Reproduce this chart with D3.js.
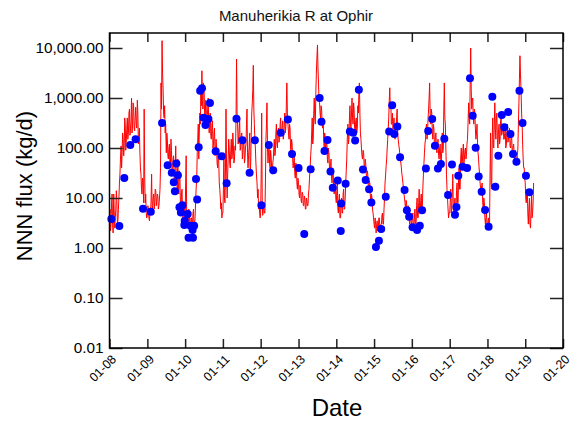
<!DOCTYPE html>
<html>
<head>
<meta charset="utf-8">
<script src="https://cdn.jsdelivr.net/npm/d3@7"></script>
<style>
  html, body { margin: 0; padding: 0; background: #fff; }
  svg { display: block; font-family: "Liberation Sans", Arial, sans-serif; }
</style>
</head>
<body>
<svg id="chart" width="580" height="427"></svg>
<script>
// ---- Data ----
const titleText = "Manuherikia R at Ophir";
const yTickValues = [0.01, 0.1, 1, 10, 100, 1000, 10000];
const xTickYears = [2008, 2009, 2010, 2011, 2012, 2013, 2014, 2015, 2016, 2017, 2018, 2019, 2020];

// continuous flux (red line), ~5-day steps within each year
const flux2008 = [4,6,2.2,3,8,12,3,2,12,5,2.5,4,6,14,9,3,3.5,6,10,20,30,60,110,40,80,200,150,70,100,400,300,90,130,250,400,150,200,500,600,180,250,350,1000,200,300,800,700,250,220,400,650,300,250,900,500,120,150,250,80,40,30,15,12,25,20,8,600,30,8,12,5,4];
const flux2009 = [4.5,7,6,4,3.5,5,5,8,30,6,7,10,12,6,8,15,14,7,9,12,11,6,7,10,15,40,2000,600,14000,3000,1500,500,400,700,200,300,80,200,150,70,60,100,120,40,50,150,90,35,30,60,70,25,20,40,110,30,25,15,60,20,12,35,30,8,6,12,15,5,4,6,8,4.5];
const flux2010 = [3.5,20,70,5,4,3,3,6,5,2.5,2.5,4,4,3,3,5,6,2.5,3,4,8,15,25,80,150,300,60,200,500,300,1200,700,3500,900,600,2000,1500,500,300,900,800,250,400,600,1000,300,200,400,500,180,150,300,350,100,120,200,250,70,80,150,100,50,40,80,60,20,15,10,6,8,4,5];
const flux2011 = [5,15,80,10,8,40,600,50,10,30,60,150,100,50,40,90,150,60,70,200,120,50,60,110,90,400,6000,500,300,120,150,250,400,90,100,180,200,60,80,130,150,50,60,100,120,300,600,80,40,70,100,200,30,50,200,500,800,1500,4500,600,300,150,100,50,30,20,10,15,6,8,5,4];
const flux2012 = [5,30,500,8,4.5,6,8,5,5,20,150,300,800,100,50,80,120,50,40,90,70,40,30,50,60,100,150,70,80,200,300,120,100,200,250,130,150,300,400,180,200,280,350,150,180,300,500,200,250,700,2000,400,300,200,150,300,250,100,80,150,120,60,40,50,70,30,25,50,40,20,15,25];
const flux2013 = [20,12,10,18,15,9,8,13,12,7,7,11,10,6,6,10,9,7,7,12,15,25,40,70,100,200,400,120,150,500,1000,400,300,1200,3000,6000,11500,4000,2000,900,800,500,400,700,600,300,250,400,150,100,200,120,80,150,120,60,50,100,80,40,30,45,60,25,20,40,35,15,12,20,25,10];
const flux2014 = [8,14,20,6,5,9,12,4,4,8,10,5,5,12,15,6,6,10,20,35,60,150,300,120,150,400,700,300,250,500,1000,400,300,800,600,250,200,350,400,200,250,700,500,1200,2000,500,200,150,100,70,60,90,80,45,40,60,50,30,25,35,30,18,15,22,20,10,8,12,10,6,5,4];
const flux2015 = [3,2.5,4,3,2,3,3.5,2.2,2.5,4,4,2.5,2,3,3,4.5,5,3,3,6,10,20,30,45,60,100,150,250,400,900,1600,600,800,300,300,500,200,300,400,180,150,300,250,400,600,200,150,120,100,80,60,50,40,30,25,20,15,12,10,8,6,9,8,5,4,7,6,3.5,3,4,5,3];
const flux2016 = [3,4,5,2.5,2.5,4,6,3,3,7,10,4,4,8,15,5,5,9,12,5,6,15,30,50,80,120,150,250,300,150,200,400,600,1000,2000,500,300,600,500,200,150,300,250,120,100,180,200,90,80,120,150,70,60,100,120,60,50,90,200,80,100,600,2000,400,300,80,30,15,10,6,4,5];
const flux2017 = [5,8,15,5,6,12,30,6,4,8,10,5,5,14,20,8,8,25,40,15,15,60,100,40,50,90,120,50,60,90,100,60,70,120,150,300,800,400,300,2000,10000,1500,600,900,1000,400,300,600,500,250,150,200,300,120,80,60,40,30,20,15,12,18,20,8,6,10,8,4,3,4,5,3];
const flux2018 = [2.5,3.5,4,2.5,3,30,200,20,15,150,400,120,100,300,800,250,150,400,500,150,100,200,300,120,150,350,400,180,200,300,300,150,150,200,250,100,120,220,300,130,150,200,250,110,100,150,200,90,80,110,120,70,60,90,80,45,50,70,100,300,800,2500,7000,3000,1500,500,300,120,60,40,40,25];
const flux2019 = [20,10,8,14,15,5,3,6,10,3,2.5,5,12,4,5,8,20];
const fluxYears = [2008,2009,2010,2011,2012,2013,2014,2015,2016,2017,2018,2019];
const fluxByYear = [flux2008,flux2009,flux2010,flux2011,flux2012,flux2013,flux2014,flux2015,flux2016,flux2017,flux2018,flux2019];

// sampled flux (blue points)
const sampleDates = [
 "2008-01-19","2008-04-05","2008-05-23","2008-07-20","2008-09-09","2008-11-20",
 "2009-02-03","2009-05-23","2009-07-16","2009-08-25","2009-10-08","2009-09-13","2009-10-23","2009-09-24","2009-11-07","2009-12-06","2009-11-21",
 "2010-01-26","2009-12-28","2009-12-24","2010-02-21","2010-03-29","2010-03-14","2010-02-03","2010-03-18","2010-04-16","2010-04-27","2010-05-12","2010-05-26","2010-06-13","2010-06-28","2010-07-16","2010-08-14","2010-08-29","2010-10-23","2010-12-20",
 "2011-02-06","2011-05-12","2011-07-09","2011-09-16","2011-11-06",
 "2012-01-08","2012-03-20","2012-05-01","2012-07-13","2012-09-20","2012-10-30",
 "2013-01-01","2013-02-25","2013-04-28","2013-07-24","2013-08-11","2013-10-08","2013-09-09","2013-11-06","2014-01-15","2013-11-28",
 "2014-02-17","2014-02-13","2014-04-01","2014-05-12","2014-06-13","2014-07-02","2014-08-07","2014-09-16","2014-10-12","2014-11-14","2014-12-06",
 "2015-03-11","2015-02-17","2015-01-19","2015-04-24","2015-05-27","2015-06-25","2015-07-16","2015-08-14","2015-09-09","2015-10-23","2015-11-14","2015-12-06",
 "2016-01-08","2016-02-21","2016-03-18","2016-04-09","2016-05-16","2016-06-07","2016-07-16","2016-08-11","2016-09-09","2016-10-08","2016-11-10","2016-12-16",
 "2017-01-23","2017-02-21","2017-03-07","2017-03-25","2017-05-05","2017-06-18","2017-07-16","2017-08-11","2017-09-09","2017-10-08","2017-11-06","2017-12-09",
 "2018-01-12","2018-02-17","2018-03-18","2018-04-16","2018-05-19","2018-06-13","2018-07-20","2018-08-11","2018-09-05","2018-10-08","2018-11-06","2018-12-06",
 "2019-01-08","2019-02-10"
];
const sampleFlux = [
 3.8,2.75,25,115,150,6.1,
 5.3,316,45,32,49,20.7,28.4,13.6,6.5,7.2,5.1,
 4.8,3.5,2.9,2.8,2.8,2.3,1.6,1.6,24,9.3,103,1400,1560,405,288,380,790,86,68,
 19.7,385,143,32,143,
 7.2,115,36,203,370,76,
 40,1.9,37.5,1000,336,145,87,34,22.5,16,
 7.8,2.2,19.3,213,203,141,1470,37,23,14.9,8.1,
 2.4,1.4,1.05,10.6,215,720,190,268,65,14.5,5.7,4.2,
 2.6,2.3,2.8,5.7,39,219,380,111,39,48,153,11.5,
 47,4.6,6.6,28,42,40,2480,443,101,27,13.4,5.75,
 2.67,1060,16.8,70,458,260,525,190,76,53,1400,316,
 28,13
];

// ---- Build ----
const parse = d3.timeParse("%Y-%m-%d");
const lineData = [];
fluxYears.forEach((yr, k) => {
  fluxByYear[k].forEach((v, i) => {
    lineData.push({ date: new Date(yr, 0, 1 + Math.round(i * 365 / 72)), value: v });
  });
});
const points = sampleDates.map((d, i) => ({ date: parse(d), value: sampleFlux[i] }));

const width = 580, height = 427;
const margin = { left: 109.5, right: 17, top: 33, bottom: 79 };
const x0 = margin.left, x1 = width - margin.right;
const y0 = height - margin.bottom, y1 = margin.top;

const x = d3.scaleTime()
  .domain([new Date(xTickYears[0], 0, 1), new Date(xTickYears[xTickYears.length - 1], 0, 1)])
  .range([x0, x1]);
const y = d3.scaleLog()
  .domain([0.01, Math.pow(10, 4.3)])
  .range([y0, y1]);

const svg = d3.select("#chart");
const xTicks = xTickYears.map(yr => new Date(yr, 0, 1));

// line
const line = d3.line().x(d => x(d.date)).y(d => y(d.value));
svg.append("path")
  .datum(lineData)
  .attr("fill", "none")
  .attr("stroke", "#ff0000")
  .attr("stroke-width", 1)
  .attr("stroke-linejoin", "round")
  .attr("d", line);

// points
svg.append("g").selectAll("circle")
  .data(points)
  .join("circle")
  .attr("cx", d => x(d.date))
  .attr("cy", d => y(d.value))
  .attr("r", 4)
  .attr("fill", "#0000ff");

// axes
const fmtY = d3.format(",.2f");
const gl = svg.append("g").attr("transform", `translate(${x0},0)`)
  .call(d3.axisLeft(y).tickValues(yTickValues).tickFormat(fmtY).tickSizeInner(-13).tickSizeOuter(0).tickPadding(6));
gl.selectAll("text").attr("font-size", 15.3).attr("fill", "#000").attr("font-family", "Liberation Sans, Arial, sans-serif");

const gr = svg.append("g").attr("transform", `translate(${x1},0)`)
  .call(d3.axisRight(y).tickValues(yTickValues).tickFormat("").tickSizeInner(-13).tickSizeOuter(0));

const gt = svg.append("g").attr("transform", `translate(0,${y1})`)
  .call(d3.axisTop(x).tickValues(xTicks).tickFormat("").tickSizeInner(-9).tickSizeOuter(0));

const gb = svg.append("g").attr("transform", `translate(0,${y0})`)
  .call(d3.axisBottom(x).tickValues(xTicks).tickFormat(d3.timeFormat("%m-%y")).tickSizeInner(-9).tickSizeOuter(0));
gb.selectAll("text")
  .attr("font-size", 12.5)
  .attr("fill", "#000")
  .attr("font-family", "Liberation Sans, Arial, sans-serif")
  .attr("text-anchor", "end")
  .attr("x", 0).attr("y", 0).attr("dy", 0)
  .attr("transform", "translate(7,12) rotate(-45)");

[gl, gr, gt, gb].forEach(g => {
  g.selectAll(".tick line").attr("stroke", "#222").attr("stroke-width", 1.5);
  g.select(".domain").remove();
});

// frame
svg.append("rect")
  .attr("x", x0).attr("y", y1)
  .attr("width", x1 - x0).attr("height", y0 - y1)
  .attr("fill", "none").attr("stroke", "#000").attr("stroke-width", 1.5);

// titles
svg.append("text")
  .attr("x", 296).attr("y", 21)
  .attr("text-anchor", "middle")
  .attr("font-size", 15)
  .attr("fill", "#111")
  .text(titleText);

svg.append("text")
  .attr("x", 337).attr("y", 416)
  .attr("text-anchor", "middle")
  .attr("font-size", 24)
  .attr("fill", "#000")
  .text("Date");

svg.append("text")
  .attr("transform", "translate(32,186) rotate(-90)")
  .attr("text-anchor", "middle")
  .attr("font-size", 22)
  .attr("fill", "#000")
  .text("NNN flux (kg/d)");
</script>
</body>
</html>
